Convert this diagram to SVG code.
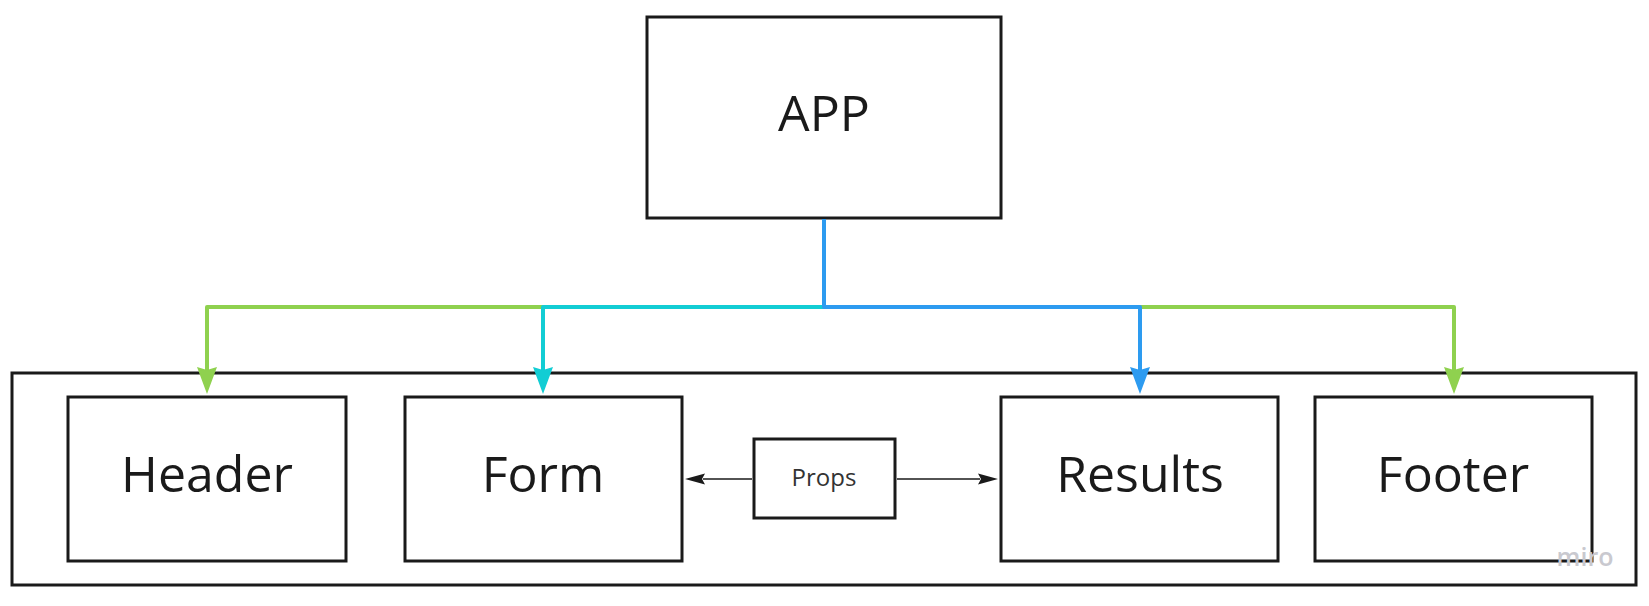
<svg xmlns="http://www.w3.org/2000/svg" width="1649" height="606" viewBox="0 0 1649 606">
<style>
.box{fill:#ffffff;stroke:#1a1a1a;stroke-width:3}
.lbl{font-family:"Open Sans","Noto Sans",sans-serif;font-size:50px;fill:#1a1a1a;text-anchor:middle}
.small{font-family:"Open Sans","Noto Sans",sans-serif;font-size:24px;fill:#333333;text-anchor:middle}
.conn{fill:none;stroke-width:4;stroke-linejoin:round}
.thin{fill:none;stroke:#1a1a1a;stroke-width:1.5}
</style>
<defs>
<marker id="ag" markerUnits="userSpaceOnUse" markerWidth="30" markerHeight="24" viewBox="0 -12 30 24" refX="3" refY="0" orient="auto"><path d="M0,-10 L27,0 L0,10 L3,0 Z" fill="#8fd14f"/></marker>
<marker id="ac" markerUnits="userSpaceOnUse" markerWidth="30" markerHeight="24" viewBox="0 -12 30 24" refX="3" refY="0" orient="auto"><path d="M0,-10 L27,0 L0,10 L3,0 Z" fill="#12cdd4"/></marker>
<marker id="ab" markerUnits="userSpaceOnUse" markerWidth="30" markerHeight="24" viewBox="0 -12 30 24" refX="3" refY="0" orient="auto"><path d="M0,-10 L27,0 L0,10 L3,0 Z" fill="#2d9bf0"/></marker>
<marker id="ak" markerUnits="userSpaceOnUse" markerWidth="24" markerHeight="14" viewBox="0 -7 24 14" refX="2" refY="0" orient="auto"><path d="M0,-5.5 L20,0 L0,5.5 L3,0 Z" fill="#1a1a1a"/></marker>
</defs>
<rect width="1649" height="606" fill="#ffffff"/>
<g id="container"><rect class="box" x="12" y="373" width="1624" height="212"/></g>
<g id="app"><rect class="box" x="647" y="17" width="354" height="201"/><text class="lbl" x="824" y="131">APP</text></g>
<g id="header"><rect class="box" x="68" y="397" width="278" height="164"/><text class="lbl" x="207" y="492">Header</text></g>
<g id="form"><rect class="box" x="405" y="397" width="277" height="164"/><text class="lbl" x="543" y="492">Form</text></g>
<g id="results"><rect class="box" x="1001" y="397" width="277" height="164"/><text class="lbl" x="1140" y="492">Results</text></g>
<g id="footer"><rect class="box" x="1315" y="397" width="277" height="164"/><text class="lbl" x="1453" y="492">Footer</text></g>
<g id="props"><rect class="box" x="754" y="439" width="141" height="79"/><text class="small" x="824" y="486">Props</text></g>
<g id="connectors">
<path class="conn" stroke="#8fd14f" d="M824,219 V307 H207 V370" marker-end="url(#ag)"/>
<path class="conn" stroke="#8fd14f" d="M824,219 V307 H1454 V370" marker-end="url(#ag)"/>
<path class="conn" stroke="#12cdd4" d="M824,219 V307 H543 V370" marker-end="url(#ac)"/>
<path class="conn" stroke="#2d9bf0" d="M824,219 V307 H1140 V370" marker-end="url(#ab)"/>
<path class="thin" d="M752,479 H703" marker-end="url(#ak)"/>
<path class="thin" d="M897,479 H980" marker-end="url(#ak)"/>
</g>
<text x="1585" y="566" font-family="Open Sans, Noto Sans, sans-serif" font-size="25" font-weight="600" fill="#c9c9cf" text-anchor="middle">miro</text>
</svg>
